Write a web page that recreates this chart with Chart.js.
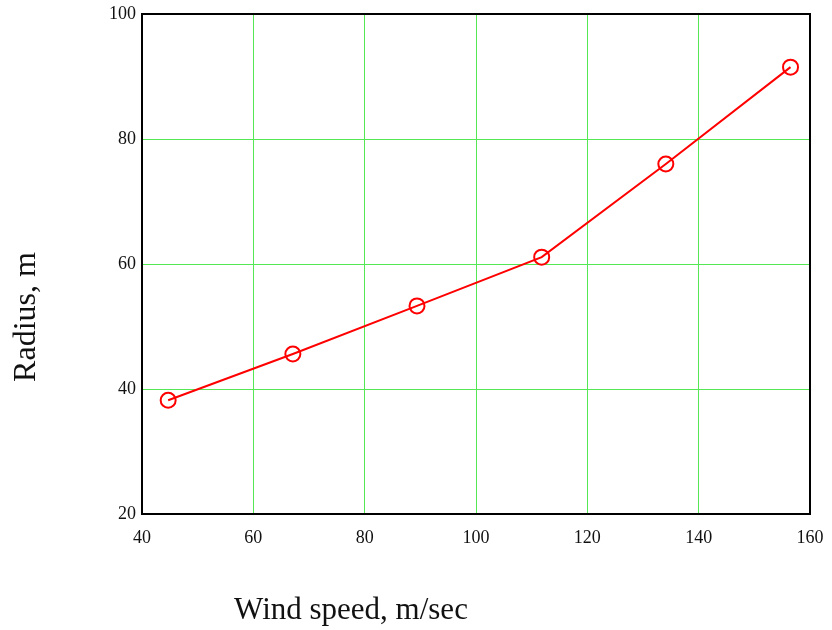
<!DOCTYPE html>
<html lang="en">
<head>
  <meta charset="UTF-8">
  <title>Radius vs wind speed</title>
  <style>
    body {
      margin: 0;
      padding: 0;
      background-color: #fff;
    }
    .chart-container {
      width: 832px;
      height: 630px;
    }
  </style>
  <script src="https://cdn.jsdelivr.net/npm/chart.js"></script>
</head>
<body>
  <div class="chart-container">
    <canvas id="radius-chart" width="832" height="630"></canvas>
  </div>

  <script>
    // Data
    const windSpeed = [44.7, 67.1, 89.4, 111.8, 134.1, 156.5];
    const radius = [38.2, 45.6, 53.3, 61.1, 76.0, 91.5];
    const xTitle = 'Wind speed, m/sec';
    const yTitle = 'Radius, m';

    const serif = "'Liberation Serif', 'Times New Roman', serif";

    // Draws the closed black frame and the two axis titles
    const framePlugin = {
      id: 'frame',
      afterDraw(chart) {
        const ctx = chart.ctx;
        const a = chart.chartArea;
        ctx.save();
        ctx.strokeStyle = '#000';
        ctx.lineWidth = 2;
        ctx.strokeRect(a.left, a.top, a.right - a.left, a.bottom - a.top);

        ctx.fillStyle = '#111';
        ctx.textAlign = 'center';
        ctx.textBaseline = 'middle';
        ctx.font = '31px ' + serif;
        ctx.fillText(xTitle, 351, 611);

        ctx.font = '32px ' + serif;
        ctx.translate(27, 317);
        ctx.rotate(-Math.PI / 2);
        ctx.fillText(yTitle, 0, 0);
        ctx.restore();
      }
    };

    const ctx = document.getElementById('radius-chart').getContext('2d');
    new Chart(ctx, {
      type: 'line',
      data: {
        datasets: [{
          data: windSpeed.map((x, i) => ({ x: x, y: radius[i] })),
          borderColor: '#ff0000',
          borderWidth: 2,
          pointStyle: 'circle',
          pointRadius: 7.5,
          pointBorderWidth: 2,
          pointBorderColor: '#ff0000',
          pointBackgroundColor: 'rgba(0,0,0,0)',
          tension: 0
        }]
      },
      options: {
        responsive: false,
        animation: false,
        layout: {
          padding: { top: 14, right: 22, left: 0, bottom: 0 }
        },
        plugins: {
          legend: { display: false },
          tooltip: { enabled: false }
        },
        scales: {
          x: {
            type: 'linear',
            min: 40,
            max: 160,
            ticks: {
              stepSize: 20,
              padding: 13,
              color: '#111',
              font: { family: serif, size: 18 }
            },
            grid: {
              color: '#55e855',
              lineWidth: 1,
              drawTicks: false
            },
            border: { display: false },
            afterFit(scale) {
              scale.height = 116;
              scale.paddingLeft = 0;
              scale.paddingRight = 0;
            }
          },
          y: {
            min: 20,
            max: 100,
            ticks: {
              stepSize: 20,
              padding: 6,
              color: '#111',
              font: { family: serif, size: 18 }
            },
            grid: {
              color: '#55e855',
              lineWidth: 1,
              drawTicks: false
            },
            border: { display: false },
            afterFit(scale) {
              scale.width = 142;
              scale.paddingTop = 0;
              scale.paddingBottom = 0;
            }
          }
        }
      },
      plugins: [framePlugin]
    });
  </script>
</body>
</html>
